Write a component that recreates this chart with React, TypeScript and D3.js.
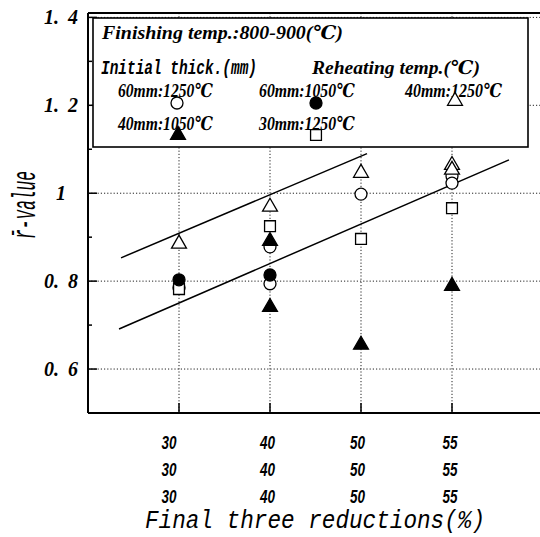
import React from "react";
import * as d3 from "d3";

const W = 540;
const H = 537;

// Final three stand reductions (%), one row per stand
const reductionsStandA = ["30", "40", "50", "55"];
const reductionsStandB = ["30", "40", "50", "55"];
const reductionsStandC = ["30", "40", "50", "55"];
const reductionRows = [reductionsStandA, reductionsStandB, reductionsStandC];

const yMajorTicks = [0.6, 0.8, 1.0, 1.2, 1.4];
const yMinorTicks = [0.7, 0.9, 1.1, 1.3];

// 60mm : 1250 C (open circle)
const oCircleCat = ["30", "40", "40", "50", "55", "55"];
const oCircleVal = [0.785, 0.878, 0.794, 0.998, 1.039, 1.023];
// 60mm : 1050 C (filled circle)
const fCircleCat = ["30", "40"];
const fCircleVal = [0.803, 0.814];
// 40mm : 1250 C (open triangle)
const oTriCat = ["30", "40", "50", "55", "55"];
const oTriVal = [0.885, 0.969, 1.046, 1.064, 1.053];
// 40mm : 1050 C (filled triangle)
const fTriCat = ["40", "40", "50", "55"];
const fTriVal = [0.891, 0.741, 0.655, 0.789];
// 30mm : 1250 C (open square)
const oSquareCat = ["30", "40", "50", "55"];
const oSquareVal = [0.782, 0.925, 0.896, 0.966];

// Band lines, x in category-position units
const upperBandX = [0.363, 3.066];
const upperBandY = [0.853, 1.09];
const lowerBandX = [0.341, 4.626];
const lowerBandY = [0.691, 1.076];

const left = 88;
const top = 13;
const bottom = 413;
const step = 91;

const x = d3.scaleLinear().domain([0, 5]).range([left, left + 5 * step]);
const y = d3.scaleLinear().domain([0.5, 1.41]).range([bottom, top]);
const catPos = (c: string) => reductionsStandA.indexOf(c) + 1;

const labelNudge = [-10, -2.5, -3.5, -2];

type Shape = "oCircle" | "fCircle" | "oTri" | "fTri" | "oSquare";

const symbolPath = (shape: Shape) => {
  if (shape === "oCircle" || shape === "fCircle")
    return d3.symbol().type(d3.symbolCircle).size(Math.PI * 36)()!;
  if (shape === "oSquare") return d3.symbol().type(d3.symbolSquare).size(118)()!;
  return d3.symbol().type(d3.symbolTriangle).size(96)()!;
};

const Marker = ({ shape, cx, cy }: { shape: Shape; cx: number; cy: number }) => {
  const filled = shape === "fCircle" || shape === "fTri";
  return (
    <path
      d={symbolPath(shape)}
      transform={`translate(${cx},${cy})`}
      fill={filled ? "#000" : "#fff"}
      stroke="#000"
      strokeWidth={1.3}
    />
  );
};

const series: { shape: Shape; cats: string[]; vals: number[] }[] = [
  { shape: "oCircle", cats: oCircleCat, vals: oCircleVal },
  { shape: "oSquare", cats: oSquareCat, vals: oSquareVal },
  { shape: "oTri", cats: oTriCat, vals: oTriVal },
  { shape: "fTri", cats: fTriCat, vals: fTriVal },
  { shape: "fCircle", cats: fCircleCat, vals: fCircleVal },
];

const serif = "'Liberation Serif', 'DejaVu Serif', serif";
const mono = "'Liberation Mono', 'DejaVu Sans Mono', monospace";
const sans = "'Liberation Sans', 'DejaVu Sans', sans-serif";

const line = d3
  .line<[number, number]>()
  .x((d) => x(d[0]))
  .y((d) => y(d[1]));

export default function App() {
  const rightEdge = x(5);
  return (
    <svg
      width={W}
      height={H}
      viewBox={`0 0 ${W} ${H}`}
      style={{ position: "absolute", left: 0, top: 0, background: "#fff" }}
    >
      <rect x={0} y={0} width={W} height={H} fill="#fff" />

      {/* dotted grid */}
      <g stroke="#222" strokeWidth={1} strokeDasharray="1.2,2">
        {reductionsStandA.map((c) => (
          <line key={c} x1={x(catPos(c))} x2={x(catPos(c))} y1={top} y2={bottom} />
        ))}
        {yMajorTicks.map((t) => (
          <line key={t} x1={left} x2={rightEdge} y1={y(t)} y2={y(t)} />
        ))}
      </g>

      {/* band lines */}
      <path
        d={line(upperBandX.map((v, i) => [v, upperBandY[i]]))!}
        fill="none"
        stroke="#000"
        strokeWidth={1.5}
      />
      <path
        d={line(lowerBandX.map((v, i) => [v, lowerBandY[i]]))!}
        fill="none"
        stroke="#000"
        strokeWidth={1.5}
      />

      {/* data markers */}
      {series.map((s) =>
        s.cats.map((c, i) => (
          <Marker key={s.shape + i} shape={s.shape} cx={x(catPos(c))} cy={y(s.vals[i])} />
        ))
      )}

      {/* frame */}
      <g stroke="#000" strokeWidth={2} fill="none">
        <line x1={left} x2={rightEdge} y1={top} y2={top} />
        <line x1={left} x2={left} y1={top} y2={bottom} />
        <line x1={left} x2={rightEdge} y1={bottom} y2={bottom} />
      </g>
      <g stroke="#000" strokeWidth={1.5}>
        {yMajorTicks.map((t) => (
          <line key={t} x1={left} x2={left + 9} y1={y(t)} y2={y(t)} />
        ))}
        {yMinorTicks.map((t) => (
          <line key={t} x1={left} x2={left + 4} y1={y(t)} y2={y(t)} />
        ))}
        {reductionsStandA.map((c) => (
          <line key={c} x1={x(catPos(c))} x2={x(catPos(c))} y1={bottom} y2={bottom - 10} />
        ))}
      </g>

      {/* y tick labels */}
      <g fontFamily={serif} fontWeight="bold" fontStyle="italic" fontSize={20} textAnchor="middle">
        {yMajorTicks.map((t) => {
          const s = d3.format(".1f")(t);
          const [a, b] = s.split(".");
          return (
            <text key={t} x={61} y={y(t) + 7}>
              {b === "0" ? (
                a
              ) : (
                <>
                  {a}.<tspan dx={9}>{b}</tspan>
                </>
              )}
            </text>
          );
        })}
      </g>

      {/* y axis title */}
      <text
        transform="translate(35,205) rotate(-90)"
        textAnchor="middle"
        fontFamily={mono}
        fontStyle="italic"
        fontSize={34}
        textLength={68}
        lengthAdjust="spacingAndGlyphs"
      >
        {"r\u0304-value"}
      </text>

      {/* x tick labels, three rows */}
      <g fontFamily={sans} fontWeight="bold" fontStyle="italic" fontSize={18.5} textAnchor="middle">
        {reductionRows.map((row, r) =>
          row.map((c, i) => (
            <text
              key={r + "-" + c}
              x={x(catPos(c)) + labelNudge[i]}
              y={448.5 + r * 27}
              textLength={15}
              lengthAdjust="spacingAndGlyphs"
            >
              {c}
            </text>
          ))
        )}
      </g>

      {/* x axis title */}
      <text
        x={145}
        y={528}
        fontFamily={mono}
        fontStyle="italic"
        fontSize={26}
        textLength={340}
        lengthAdjust="spacingAndGlyphs"
      >
        Final three reductions(%)
      </text>

      {/* legend */}
      <rect x={93} y={18} width={435} height={129} fill="#fff" stroke="#000" strokeWidth={1.6} />
      <g fontFamily={serif} fontWeight="bold" fontStyle="italic" fontSize={19}>
        <text x={102} y={39} textLength={241} lengthAdjust="spacingAndGlyphs">
          Finishing temp.:800-900(℃)
        </text>
        <text x={101} y={74} fontFamily={mono} fontSize={20} textLength={156} lengthAdjust="spacingAndGlyphs">
          Initial thick.(mm)
        </text>
        <text x={312} y={74} textLength={168} lengthAdjust="spacingAndGlyphs">
          Reheating temp.(℃)
        </text>
        <text x={118} y={97} textLength={95} lengthAdjust="spacingAndGlyphs">
          60mm:1250℃
        </text>
        <text x={259} y={97} textLength={96} lengthAdjust="spacingAndGlyphs">
          60mm:1050℃
        </text>
        <text x={405} y={97} textLength={97} lengthAdjust="spacingAndGlyphs">
          40mm:1250℃
        </text>
        <text x={118} y={130} textLength={95} lengthAdjust="spacingAndGlyphs">
          40mm:1050℃
        </text>
        <text x={259} y={130} textLength={96} lengthAdjust="spacingAndGlyphs">
          30mm:1250℃
        </text>
      </g>
      <Marker shape="oCircle" cx={177} cy={103} />
      <Marker shape="fCircle" cx={316} cy={103} />
      <Marker shape="oTri" cx={455} cy={101} />
      <Marker shape="fTri" cx={178} cy={135} />
      <Marker shape="oSquare" cx={316} cy={135} />
    </svg>
  );
}
